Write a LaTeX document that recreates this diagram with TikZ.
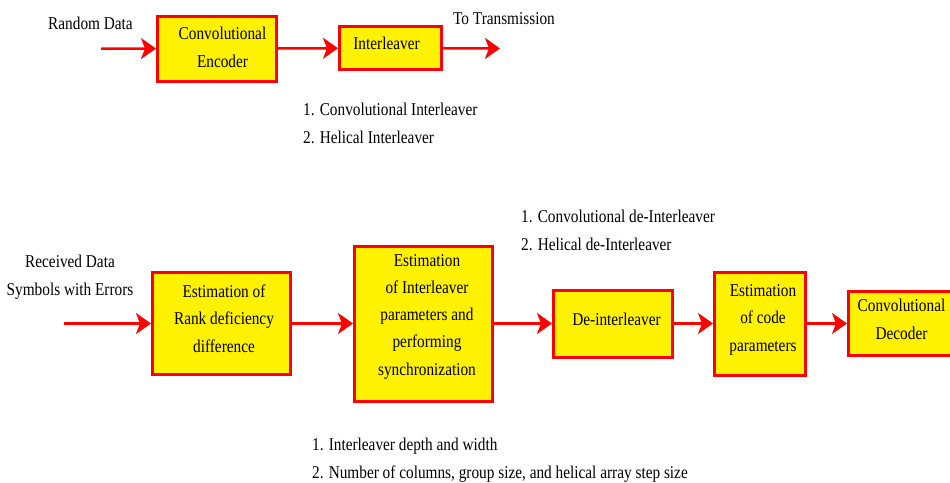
\documentclass[tikz,border=0pt]{standalone}
\usepackage{fontspec}
\setmainfont{Liberation Serif}[FakeStretch=0.85]
\usepackage{tikz}
\usetikzlibrary{arrows.meta}
\tikzset{>={Stealth[length=15pt,width=21pt,inset=4pt]}}
\tikzset{blk/.style={draw=red, fill=yellow, line width=3pt, inner sep=0pt},
  flow/.style={->, draw=red, line width=2.5pt},
  txt/.style={font=\fontsize{18}{27.2}\selectfont, inner sep=0pt, anchor=base, align=center},
  lst/.style={txt, anchor=base west, align=left}}

\begin{document}
\begin{tikzpicture}[x=1pt, y=-1pt]
    \clip (0,0) rectangle (950,482);
    % transmitter
    \node[blk, minimum width=119pt, minimum height=65pt] (enc) at (217,48.7) {};
    \node[blk, minimum width=102pt, minimum height=43pt] (intl) at (390.5,48) {};
    \node[txt] (encT) at (222.5,67) {Convolutional\\Encoder};
    \node[txt] (intlT) at (386.5,49) {Interleaver};
    \node[txt] (rnd) at (90.5,29) {Random Data};
    \node[txt] (trans) at (504,24) {To Transmission};
    \node[lst] (ilist) at (303,143) {1. Convolutional Interleaver\\2. Helical Interleaver};
    \coordinate (in1) at (101,48.5);
    \coordinate (out1) at (500,48.5);
    \draw[flow] (in1) -- (enc);
    \draw[flow] (enc) -- (intl);
    \draw[flow] (intl) -- (out1);
    % receiver
    \node[blk, minimum width=138pt, minimum height=102pt] (rank) at (221.5,323.5) {};
    \node[blk, minimum width=138pt, minimum height=155pt] (param) at (423.5,323.5) {};
    \node[blk, minimum width=119pt, minimum height=67pt] (deint) at (613,323.5) {};
    \node[blk, minimum width=91pt, minimum height=103pt] (code) at (760,323.5) {};
    \node[blk, minimum width=108pt, minimum height=64pt] (dec) at (902.5,323.5) {};
    \node[txt] (rankT) at (224,352) {Estimation of\\Rank deficiency\\difference};
    \node[txt] (paramT) at (427,375) {Estimation\\of Interleaver\\parameters and\\performing\\synchronization};
    \node[txt] (deintT) at (616.5,325) {De-interleaver};
    \node[txt] (codeT) at (763,351) {Estimation\\of code\\parameters};
    \node[txt] (decT) at (901.5,339) {Convolutional\\Decoder};
    \node[txt] (recv) at (70,295) {Received Data\\Symbols with Errors};
    \node[lst] (dlist) at (521,250) {1. Convolutional de-Interleaver\\2. Helical de-Interleaver};
    \node[lst] (plist) at (312,478) {1. Interleaver depth and width\\2. Number of columns, group size, and helical array step size};
    \coordinate (in2) at (64,323.5);
    \draw[flow] (in2) -- (rank);
    \draw[flow] (rank) -- (param);
    \draw[flow] (param) -- (deint);
    \draw[flow] (deint) -- (code);
    \draw[flow] (code) -- (dec);
\end{tikzpicture}
\end{document}
